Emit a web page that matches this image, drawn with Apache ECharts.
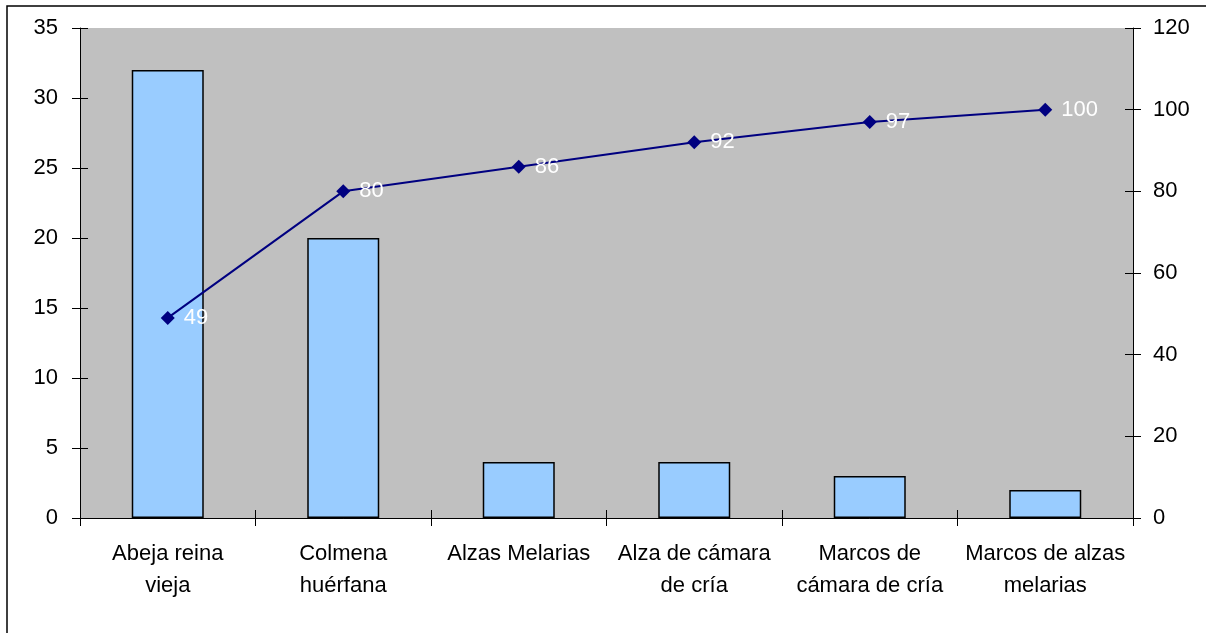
<!DOCTYPE html>
<html>
<head>
<meta charset="utf-8">
<script src="https://cdn.jsdelivr.net/npm/echarts@6/dist/echarts.min.js"></script>
<style>
  html, body { margin: 0; padding: 0; background: #ffffff; }
  #chart { width: 1211px; height: 633px; }
</style>
</head>
<body>
<div id="chart"></div>
<script>
// Causes of colony loss and cumulative percentage (Pareto chart)
const categories = [
  'Abeja reina\nvieja',
  'Colmena\nhuérfana',
  'Alzas Melarias',
  'Alza de cámara\nde cría',
  'Marcos de\ncámara de cría',
  'Marcos de alzas\nmelarias'
];
const counts = [32, 20, 4, 4, 3, 2];
const cumulativePct = [49, 80, 86, 92, 97, 100];

const FONT = 'Liberation Sans, Arial, sans-serif';
const grid = { left: 80, right: 78, top: 28, bottom: 115 };

const chart = echarts.init(document.getElementById('chart'), null, { renderer: 'canvas' });

const tickLine = { lineStyle: { color: '#000', width: 1 } };

chart.setOption({
  animation: false,
  backgroundColor: '#ffffff',
  graphic: [
    {
      type: 'polyline',
      shape: { points: [[7, 633], [7, 6], [1206, 6]] },
      style: { stroke: '#000', lineWidth: 1.5, fill: null },
      silent: true
    }
  ],
  grid: Object.assign({ show: true, backgroundColor: '#C0C0C0', borderWidth: 0 }, grid),
  xAxis: [
    {
      type: 'category',
      data: categories,
      boundaryGap: true,
      axisLine: { show: true, lineStyle: { color: '#000', width: 1 } },
      axisTick: Object.assign({ show: true, length: 8, inside: false, alignWithLabel: false }, tickLine),
      axisLabel: {
        color: '#000', fontSize: 22, fontFamily: FONT, lineHeight: 32,
        margin: 20, interval: 0, align: 'center'
      },
      splitLine: { show: false }
    },
    {
      // inner half of the crossing category ticks
      type: 'category',
      data: categories,
      position: 'bottom',
      boundaryGap: true,
      axisLine: { show: false },
      axisTick: Object.assign({ show: true, length: 8, inside: true }, tickLine),
      axisLabel: { show: false },
      splitLine: { show: false }
    }
  ],
  yAxis: [
    {
      type: 'value', min: 0, max: 35, interval: 5, position: 'left',
      axisLine: { show: true, lineStyle: { color: '#000', width: 1 } },
      axisTick: Object.assign({ show: true, length: 8, inside: false }, tickLine),
      axisLabel: { color: '#000', fontSize: 22, fontFamily: FONT, margin: 22 },
      splitLine: { show: false }
    },
    {
      type: 'value', min: 0, max: 120, interval: 20, position: 'right',
      axisLine: { show: true, lineStyle: { color: '#000', width: 1 } },
      axisTick: Object.assign({ show: true, length: 8, inside: false }, tickLine),
      axisLabel: { color: '#000', fontSize: 22, fontFamily: FONT, margin: 20 },
      splitLine: { show: false }
    },
    {
      // inner half of the crossing ticks, left
      type: 'value', min: 0, max: 35, interval: 5, position: 'left',
      axisLine: { show: false },
      axisTick: Object.assign({ show: true, length: 8, inside: true }, tickLine),
      axisLabel: { show: false },
      splitLine: { show: false }
    },
    {
      // inner half of the crossing ticks, right
      type: 'value', min: 0, max: 120, interval: 20, position: 'right',
      axisLine: { show: false },
      axisTick: Object.assign({ show: true, length: 8, inside: true }, tickLine),
      axisLabel: { show: false },
      splitLine: { show: false }
    }
  ],
  series: [
    {
      name: 'Frecuencia',
      type: 'bar',
      xAxisIndex: 0,
      yAxisIndex: 0,
      data: counts,
      barWidth: 72,
      itemStyle: { color: '#99CCFF', borderColor: '#000', borderWidth: 1.5 }
    },
    {
      name: '% acumulado',
      type: 'line',
      xAxisIndex: 0,
      yAxisIndex: 1,
      data: cumulativePct,
      symbol: 'diamond',
      symbolSize: 14,
      lineStyle: { color: '#000080', width: 2 },
      itemStyle: { color: '#000080' },
      label: {
        show: true, position: 'right', distance: 9,
        color: '#ffffff', fontSize: 22, fontFamily: FONT
      },
      z: 5
    }
  ]
});
</script>
</body>
</html>
